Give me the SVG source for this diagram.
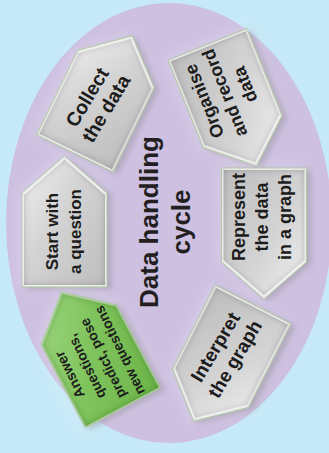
<svg xmlns="http://www.w3.org/2000/svg" xmlns:xlink="http://www.w3.org/1999/xlink" width="329" height="453" viewBox="0 0 329 453">
<style>
.gray{fill:url(#gg);filter:url(#bevel)}
.green{fill:url(#gn);filter:url(#bevelg)}
.edge{fill:none;stroke:#a9c79a;stroke-width:0.8}
.lbl{font-family:"Liberation Sans",Arial,sans-serif;font-weight:bold;fill:#1c1c1c;text-anchor:middle}
.title{font-family:"Liberation Sans",Arial,sans-serif;font-weight:bold;fill:#231f20;text-anchor:middle;font-size:26px}
</style>
<defs>
<path id="house" d="M0,-84 L42.5,-47 L42.5,47 L-42.5,47 L-42.5,-47 Z"/>
<linearGradient id="gg" x1="0" y1="0" x2="1" y2="1">
<stop offset="0" stop-color="#f2f2f2"/>
<stop offset="0.45" stop-color="#d3d3d3"/>
<stop offset="1" stop-color="#bdbdbd"/>
</linearGradient>
<linearGradient id="gn" x1="0" y1="0" x2="1" y2="1">
<stop offset="0" stop-color="#a2d984"/>
<stop offset="0.5" stop-color="#7fc35c"/>
<stop offset="1" stop-color="#6cb54a"/>
</linearGradient>
<filter id="bevel" x="-10%" y="-10%" width="120%" height="120%">
<feGaussianBlur in="SourceAlpha" stdDeviation="4" result="blur"/>
<feComposite in="SourceAlpha" in2="blur" operator="out" result="edge"/>
<feFlood flood-color="#6a6a6a" flood-opacity="0.9"/>
<feComposite in2="edge" operator="in" result="shade"/>
<feMorphology in="SourceAlpha" operator="erode" radius="1.5" result="er"/>
<feComposite in="SourceAlpha" in2="er" operator="out" result="rim"/>
<feFlood flood-color="#ffffff" flood-opacity="0.7"/>
<feComposite in2="rim" operator="in" result="hl"/>
<feMerge><feMergeNode in="SourceGraphic"/><feMergeNode in="shade"/><feMergeNode in="hl"/></feMerge>
</filter>
<filter id="bevelg" x="-10%" y="-10%" width="120%" height="120%">
<feGaussianBlur in="SourceAlpha" stdDeviation="4" result="blur"/>
<feComposite in="SourceAlpha" in2="blur" operator="out" result="edge"/>
<feFlood flood-color="#3f7f27" flood-opacity="0.9"/>
<feComposite in2="edge" operator="in" result="shade"/>
<feMorphology in="SourceAlpha" operator="erode" radius="1.5" result="er"/>
<feComposite in="SourceAlpha" in2="er" operator="out" result="rim"/>
<feFlood flood-color="#d8f0c8" flood-opacity="0.6"/>
<feComposite in2="rim" operator="in" result="hl"/>
<feMerge><feMergeNode in="SourceGraphic"/><feMergeNode in="shade"/><feMergeNode in="hl"/></feMerge>
</filter>
<filter id="drop" x="-30%" y="-30%" width="160%" height="160%">
<feGaussianBlur in="SourceAlpha" stdDeviation="7" result="g"/>
<feFlood flood-color="#ffffff" flood-opacity="0.35"/>
<feComposite in2="g" operator="in" result="glow"/>
<feGaussianBlur in="SourceAlpha" stdDeviation="3.5" result="b"/>
<feOffset in="b" dx="4" dy="2" result="o"/>
<feFlood flood-color="#000000" flood-opacity="0.35"/>
<feComposite in2="o" operator="in" result="sh"/>
<feMerge><feMergeNode in="glow"/><feMergeNode in="sh"/><feMergeNode in="SourceGraphic"/></feMerge>
</filter>
</defs>
<rect x="0" y="0" width="329" height="453" fill="#c6e9f8"/>
<ellipse cx="169" cy="223" rx="163" ry="220" fill="#cdc0e1"/>
<g id="connectors"/>
<g id="title">
<text class="title" transform="translate(158,222) rotate(-90)"><tspan x="0" y="0">Data handling</tspan><tspan x="0" y="32">cycle</tspan></text>
</g>
<g id="node-start">
<g filter="url(#drop)"><g transform="translate(64.5,240)"><use xlink:href="#house" class="gray"/><use xlink:href="#house" class="edge"/></g></g>
<text class="lbl" font-size="17" transform="translate(63.5,231.5) rotate(-90)"><tspan x="0" y="-5.5">Start with</tspan><tspan x="0" y="17.5">a question</tspan></text>
</g>
<g id="node-collect">
<g filter="url(#drop)"><g transform="translate(95.4,111.2) rotate(26)"><use xlink:href="#house" class="gray"/><use xlink:href="#house" class="edge"/></g></g>
<text class="lbl" font-size="19.5" transform="translate(96.3,102.8) rotate(-59)"><tspan x="0" y="-4">Collect</tspan><tspan x="0" y="18">the data</tspan></text>
</g>
<g id="node-organise">
<g filter="url(#drop)"><g transform="translate(225,88) rotate(158)"><use xlink:href="#house" class="gray"/><use xlink:href="#house" class="edge"/></g></g>
<text class="lbl" font-size="18" transform="translate(224.5,93) rotate(-112)"><tspan x="0" y="-15.7">Organise</tspan><tspan x="0" y="6.3">and record</tspan><tspan x="0" y="28.3">data</tspan></text>
</g>
<g id="node-represent">
<g filter="url(#drop)"><g transform="translate(264,215) rotate(180)"><use xlink:href="#house" class="gray"/><use xlink:href="#house" class="edge"/></g></g>
<text class="lbl" font-size="18" transform="translate(262,217) rotate(-90)"><tspan x="0" y="-16.7">Represent</tspan><tspan x="0" y="6.3">the data</tspan><tspan x="0" y="29.3">in a graph</tspan></text>
</g>
<g id="node-interpret">
<g filter="url(#drop)"><g transform="translate(231.7,346.3) rotate(207)"><use xlink:href="#house" class="gray"/><use xlink:href="#house" class="edge"/></g></g>
<text class="lbl" font-size="19" transform="translate(225,353) rotate(-59)"><tspan x="0" y="-4.9">Interpret</tspan><tspan x="0" y="18.1">the graph</tspan></text>
</g>
<g id="node-answer">
<g filter="url(#drop)"><g transform="translate(100.8,366.3) rotate(-28)"><use xlink:href="#house" class="green"/><use xlink:href="#house" class="edge"/></g></g>
<text class="lbl" font-size="14" transform="translate(94.5,362.5) rotate(-116)"><tspan x="0" y="-22.75">Answer</tspan><tspan x="0" y="-4.25">questions,</tspan><tspan x="0" y="14.25">predict, pose</tspan><tspan x="0" y="32.75">new questions</tspan></text>
</g>
</svg>
